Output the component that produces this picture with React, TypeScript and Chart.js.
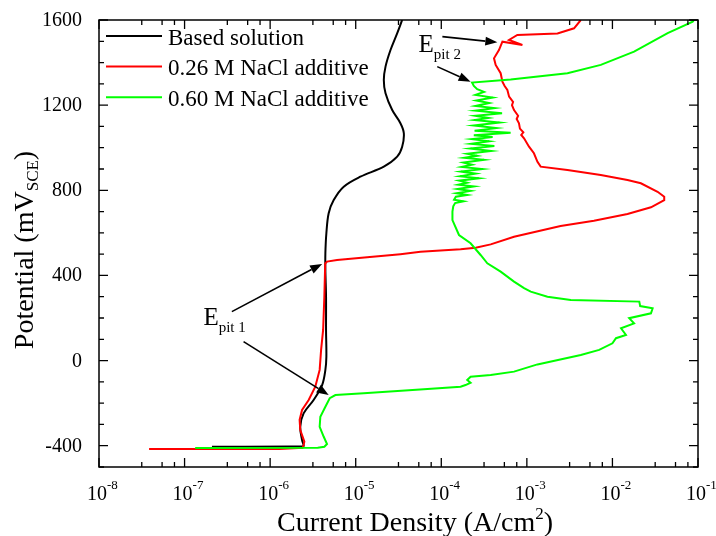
import React, { useEffect, useRef } from "react";
import { Chart, registerables } from "chart.js";
Chart.register(...registerables);

const SERIES_NAMES = ["Based solution", "0.26 M NaCl additive", "0.60 M NaCl additive"];
const SERIES_COLORS = ["#000000", "#ff0000", "#00ff00"];

// Based solution: current density (A/cm2) and potential (mV SCE)
const BASE_CURRENT = [2.09e-7, 2.44e-6, 2.46e-6, 2.36e-6, 2.25e-6, 2.46e-6, 3.22e-6, 4.05e-6, 4.42e-6, 4.54e-6, 4.5e-6, 4.5e-6, 4.42e-6, 4.42e-6, 4.54e-6, 4.83e-6, 5.53e-6, 7.24e-6, 1.135e-5, 2.13e-5, 3.05e-5, 3.49e-5, 3.65e-5, 3.33e-5, 2.67e-5, 2.23e-5, 2.13e-5, 2.23e-5, 2.55e-5, 3.05e-5, 3.49e-5];
const BASE_POTENTIAL = [-405, -403, -397, -373, -311, -248, -185, -115, -44, 18, 144, 300, 425, 504, 598, 692, 754, 817, 864, 911, 958, 1005, 1068, 1115, 1177, 1256, 1318, 1381, 1459, 1537, 1600];

// 0.26 M NaCl additive
const RED_CURRENT = [3.85e-8, 1.28e-6, 2.4e-6, 2.46e-6, 2.51e-6, 2.25e-6, 2.21e-6, 2.36e-6, 2.82e-6, 3.37e-6, 3.79e-6, 3.94e-6, 4.16e-6, 4.3e-6, 4.4e-6, 4.62e-6, 6.05e-6, 1.36e-5, 3.33e-5, 5.71e-5, 1.68e-4, 2.52e-4, 3.78e-4, 7.08e-4, 2.48e-3, 6.08e-3, 1.5e-2, 2.82e-2, 4.03e-2, 4.03e-2, 3.37e-2, 2.15e-2, 1.5e-2, 7.31e-3, 2.98e-3, 1.45e-3, 1.33e-3, 1.21e-3, 1.06e-3, 9.27e-4, 8.6e-4, 9.1e-4, 8.3e-4, 8.09e-4, 7.6e-4, 7.9e-4, 7.08e-4, 6.7e-4, 6.9e-4, 6.2e-4, 5.92e-4, 5.5e-4, 5.18e-4, 4.94e-4, 4.32e-4, 4.13e-4, 4.72e-4, 5.18e-4, 8.87e-4, 6.18e-4, 7.74e-4, 2.28e-3, 3.56e-3, 4.27e-3];
const RED_POTENTIAL = [-416, -415, -410, -397, -381, -326, -279, -232, -185, -123, -44, 50, 144, 300, 455, 465, 472, 485, 500, 511, 523, 530, 546, 582, 632, 657, 689, 720, 754, 770, 793, 833, 848, 872, 895, 911, 934, 974, 1005, 1044, 1060, 1072, 1090, 1115, 1135, 1150, 1177, 1200, 1215, 1240, 1271, 1290, 1310, 1350, 1389, 1420, 1459, 1498, 1483, 1506, 1530, 1537, 1561, 1600];

// 0.60 M NaCl additive
const GREEN_CURRENT = [1.33e-7, 3.6e-6, 4.3e-6, 4.62e-6, 4.23e-6, 3.79e-6, 3.86e-6, 4.42e-6, 4.97e-6, 5.79e-6, 1.24e-5, 6.25e-5, 1.68e-4, 1.92e-4, 2.2e-4, 2.01e-4, 2.2e-4, 3.78e-4, 7.08e-4, 1.33e-3, 4.27e-3, 7.0e-3, 1.0e-2, 1.1e-2, 1.44e-2, 1.26e-2, 1.79e-2, 1.57e-2, 2.82e-2, 2.95e-2, 2.11e-2, 2.06e-2, 3.26e-3, 1.74e-3, 1.11e-3, 9.27e-4, 7.08e-4, 4.94e-4, 3.45e-4, 2.88e-4, 2.2e-4, 1.61e-4, 1.35e-4,
  1.35e-4, 1.38e-4, 1.45e-4, 1.82e-4, 1.41e-4, 1.48e-4, 2.0e-4, 1.51e-4, 2.19e-4, 1.55e-4, 2.4e-4, 1.58e-4, 2.0e-4, 1.62e-4, 2.75e-4, 1.66e-4, 2.51e-4, 1.7e-4, 3.02e-4, 1.74e-4, 2.29e-4, 1.82e-4, 3.16e-4, 1.86e-4, 2.63e-4, 2.0e-4, 3.8e-4, 2.19e-4, 4.17e-4, 2.24e-4, 3.63e-4, 2.29e-4, 3.98e-4, 2.4e-4, 6.46e-4, 2.45e-4, 4.37e-4, 2.4e-4, 4.79e-4, 2.45e-4, 3.55e-4, 2.51e-4, 5.13e-4, 2.51e-4, 4.17e-4, 2.51e-4, 3.63e-4, 2.57e-4, 3.98e-4, 2.51e-4, 3.16e-4, 2.63e-4, 2.4e-4, 2.29e-4,
  6.47e-4, 2.98e-3, 7.31e-3, 1.79e-2, 4.42e-2, 8.67e-2, 8.97e-2];
const GREEN_POTENTIAL = [-411, -409, -405, -392, -358, -311, -264, -217, -177, -162, -154, -135, -123, -115, -104, -91, -76, -68, -52, -18, 26, 50, 81, 105, 120, 152, 175, 199, 222, 246, 256, 277, 285, 300, 324, 340, 371, 418, 457, 496, 551, 590, 660,
  700, 725, 740, 748, 756, 770, 778, 786, 797, 806, 818, 826, 836, 845, 856, 866, 878, 888, 900, 910, 920, 930, 943, 953, 962, 972, 985, 996, 1008, 1018, 1030, 1040, 1050, 1058, 1070, 1080, 1092, 1104, 1118, 1130, 1140, 1150, 1162, 1174, 1186, 1196, 1210, 1222, 1236, 1248, 1262, 1275, 1290, 1306,
  1321, 1350, 1389, 1451, 1538, 1592, 1600];

// Axes
const X_MIN = 1e-8;
const X_MAX = 1e-1;
const X_TICK_EXPONENTS = [-8, -7, -6, -5, -4, -3, -2, -1];
const X_MINOR_MULTIPLIERS = [3.16, 5.46, 7.62];
const Y_MIN = -500;
const Y_MAX = 1600;
const Y_TICKS = [-400, 0, 400, 800, 1200, 1600];
const Y_MINOR_TICKS = [-500, -300, -200, -100, 100, 200, 300, 500, 600, 700, 900, 1000, 1100, 1300, 1400, 1500];

// Annotations (data coordinates)
const ANNOTATION_LABELS = [
  { main: "E", sub: "pit 2", at: [5.42e-5, 1451] },
  { main: "E", sub: "pit 1", at: [1.66e-7, 167] },
];
const ANNOTATION_ARROWS = [
  { from: [1.03e-4, 1522], to: [4.52e-4, 1495] },
  { from: [8.97e-5, 1381], to: [2.2e-4, 1310] },
  { from: [3.57e-7, 230], to: [4.05e-6, 454] },
  { from: [4.89e-7, 89], to: [4.83e-6, -162] },
];

const FONT = "'Liberation Serif', 'Times New Roman', serif";

function zip(xs: number[], ys: number[]) {
  return xs.map((x, i) => ({ x, y: ys[i] }));
}

function drawArrow(ctx: CanvasRenderingContext2D, x1: number, y1: number, x2: number, y2: number) {
  const ang = Math.atan2(y2 - y1, x2 - x1);
  const hl = 12, hw = 4.5;
  const bx = x2 - hl * Math.cos(ang), by = y2 - hl * Math.sin(ang);
  ctx.beginPath();
  ctx.moveTo(x1, y1);
  ctx.lineTo(bx, by);
  ctx.stroke();
  ctx.beginPath();
  ctx.moveTo(x2, y2);
  ctx.lineTo(bx - hw * Math.sin(ang), by + hw * Math.cos(ang));
  ctx.lineTo(bx + hw * Math.sin(ang), by - hw * Math.cos(ang));
  ctx.closePath();
  ctx.fill();
}

const decorPlugin = {
  id: "decor",
  afterDraw(chart: any) {
    const ctx: CanvasRenderingContext2D = chart.ctx;
    const { left, right, top, bottom } = chart.chartArea;
    const xs = chart.scales.x;
    const ys = chart.scales.y;
    ctx.save();
    ctx.strokeStyle = "#000";
    ctx.fillStyle = "#000";
    ctx.lineWidth = 1.5;
    ctx.strokeRect(left, top, right - left, bottom - top);

    const MAJ = 9, MIN = 5;
    ctx.lineWidth = 1.3;
    ctx.beginPath();
    X_TICK_EXPONENTS.forEach((e) => {
      const px = xs.getPixelForValue(Math.pow(10, e));
      ctx.moveTo(px, bottom); ctx.lineTo(px, bottom - MAJ);
      ctx.moveTo(px, top); ctx.lineTo(px, top + MAJ);
      if (e < -1) {
        X_MINOR_MULTIPLIERS.forEach((m) => {
          const mx = xs.getPixelForValue(m * Math.pow(10, e));
          ctx.moveTo(mx, bottom); ctx.lineTo(mx, bottom - MIN);
          ctx.moveTo(mx, top); ctx.lineTo(mx, top + MIN);
        });
      }
    });
    Y_TICKS.forEach((v) => {
      const py = ys.getPixelForValue(v);
      ctx.moveTo(left, py); ctx.lineTo(left + MAJ, py);
      ctx.moveTo(right, py); ctx.lineTo(right - MAJ, py);
    });
    Y_MINOR_TICKS.forEach((v) => {
      const py = ys.getPixelForValue(v);
      ctx.moveTo(left, py); ctx.lineTo(left + MIN, py);
      ctx.moveTo(right, py); ctx.lineTo(right - MIN, py);
    });
    ctx.stroke();

    // tick labels
    ctx.textBaseline = "alphabetic";
    X_TICK_EXPONENTS.forEach((e) => {
      const px = xs.getPixelForValue(Math.pow(10, e));
      ctx.font = `20px ${FONT}`;
      ctx.textAlign = "center";
      ctx.fillText("10", px - 2, 500);
      ctx.font = `13px ${FONT}`;
      ctx.textAlign = "left";
      ctx.fillText(String(e), px + 8, 489);
    });
    ctx.font = `20px ${FONT}`;
    ctx.textAlign = "right";
    Y_TICKS.forEach((v) => {
      const py = ys.getPixelForValue(v);
      ctx.fillText(String(v), 82, py + 6);
    });

    // x title
    ctx.textAlign = "left";
    const TS = 28, SS = 17;
    const t1 = "Current Density (A/cm";
    ctx.font = `${TS}px ${FONT}`;
    const w1 = ctx.measureText(t1).width;
    const wp = ctx.measureText(")").width;
    ctx.font = `${SS}px ${FONT}`;
    const w2 = ctx.measureText("2").width;
    const sx = 415 - (w1 + w2 + wp) / 2;
    ctx.font = `${TS}px ${FONT}`;
    ctx.fillText(t1, sx, 531);
    ctx.font = `${SS}px ${FONT}`;
    ctx.fillText("2", sx + w1, 519);
    ctx.font = `${TS}px ${FONT}`;
    ctx.fillText(")", sx + w1 + w2, 531);

    // y title
    ctx.save();
    ctx.translate(33, 250);
    ctx.rotate(-Math.PI / 2);
    const y1 = "Potential (mV";
    ctx.font = `${TS}px ${FONT}`;
    const yw1 = ctx.measureText(y1).width;
    ctx.font = `${SS}px ${FONT}`;
    const yw2 = ctx.measureText("SCE").width;
    const ysx = -(yw1 + yw2 + wp) / 2;
    ctx.font = `${TS}px ${FONT}`;
    ctx.fillText(y1, ysx, 0);
    ctx.font = `${SS}px ${FONT}`;
    ctx.fillText("SCE", ysx + yw1, 5);
    ctx.font = `${TS}px ${FONT}`;
    ctx.fillText(")", ysx + yw1 + yw2, 0);
    ctx.restore();

    // legend
    chart.data.datasets.forEach((ds: any, i: number) => {
      const ly = 36 + i * 30.6;
      ctx.strokeStyle = ds.borderColor;
      ctx.lineWidth = 2;
      ctx.beginPath();
      ctx.moveTo(106, ly);
      ctx.lineTo(162, ly);
      ctx.stroke();
      ctx.fillStyle = "#000";
      ctx.font = `23px ${FONT}`;
      ctx.textAlign = "left";
      ctx.fillText(ds.label, 168, ly + 8.5);
    });

    // annotations
    ctx.fillStyle = "#000";
    ctx.strokeStyle = "#000";
    ctx.lineWidth = 1.6;
    ANNOTATION_ARROWS.forEach((a) => {
      drawArrow(ctx, xs.getPixelForValue(a.from[0]), ys.getPixelForValue(a.from[1]),
        xs.getPixelForValue(a.to[0]), ys.getPixelForValue(a.to[1]));
    });
    ANNOTATION_LABELS.forEach((l) => {
      const px = xs.getPixelForValue(l.at[0]);
      const py = ys.getPixelForValue(l.at[1]);
      ctx.font = `25px ${FONT}`;
      ctx.textAlign = "left";
      ctx.fillText(l.main, px, py);
      const w = ctx.measureText(l.main).width;
      ctx.font = `15px ${FONT}`;
      ctx.fillText(l.sub, px + w, py + 7);
    });
    ctx.restore();
  },
};

export default function App() {
  const ref = useRef<HTMLCanvasElement>(null);
  useEffect(() => {
    const datasets = [
      { label: SERIES_NAMES[0], data: zip(BASE_CURRENT, BASE_POTENTIAL), borderColor: SERIES_COLORS[0], tension: 0.35, order: 3 },
      { label: SERIES_NAMES[1], data: zip(RED_CURRENT, RED_POTENTIAL), borderColor: SERIES_COLORS[1], tension: 0, order: 2 },
      { label: SERIES_NAMES[2], data: zip(GREEN_CURRENT, GREEN_POTENTIAL), borderColor: SERIES_COLORS[2], tension: 0, order: 1 },
    ].map((d) => ({ ...d, showLine: true, pointRadius: 0, borderWidth: 2, backgroundColor: d.borderColor, fill: false }));

    const chart = new Chart(ref.current as HTMLCanvasElement, {
      type: "scatter",
      data: { datasets },
      options: {
        animation: false,
        responsive: false,
        devicePixelRatio: 1,
        layout: { padding: { left: 0, right: 18, top: 20, bottom: 0 } },
        plugins: { legend: { display: false }, tooltip: { enabled: false } },
        scales: {
          x: {
            type: "logarithmic",
            min: X_MIN,
            max: X_MAX,
            grid: { display: false },
            border: { display: false },
            ticks: { display: false },
            afterFit: (s: any) => { s.height = 69; },
          },
          y: {
            type: "linear",
            min: Y_MIN,
            max: Y_MAX,
            grid: { display: false },
            border: { display: false },
            ticks: { display: false },
            afterFit: (s: any) => { s.width = 99; },
          },
        },
      } as any,
      plugins: [decorPlugin],
    });
    return () => chart.destroy();
  }, []);
  return (
    <div style={{ position: "absolute", left: 0, top: 0, width: 716, height: 536, background: "#fff" }}>
      <canvas ref={ref} width={716} height={536} style={{ display: "block", width: 716, height: 536 }} />
    </div>
  );
}
